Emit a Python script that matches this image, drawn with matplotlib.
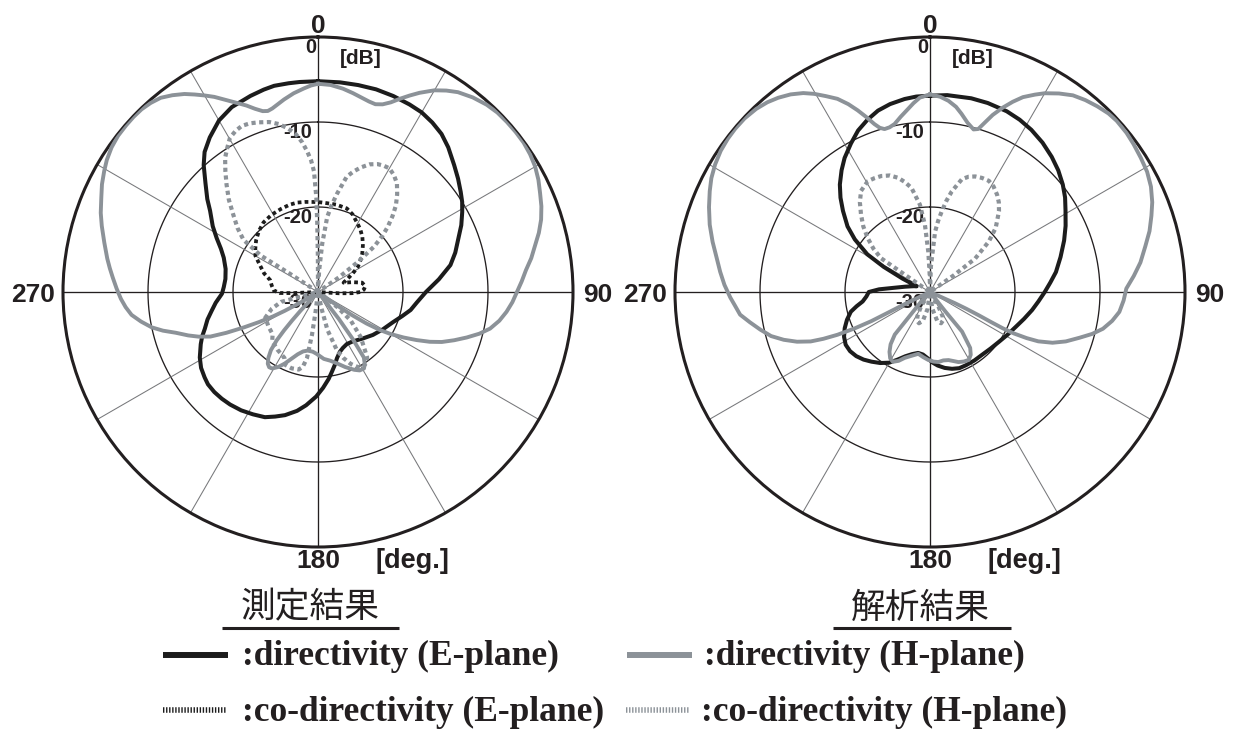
import numpy as np
import matplotlib.pyplot as plt
from matplotlib.lines import Line2D

# ---- radiation patterns: angle [deg, clockwise from 0], level [dB] ----
# measured (測定結果)
meas_e_deg = [0, 6, 11, 16, 21, 26, 30, 34, 38, 42, 47, 51, 55, 58, 61, 65, 69, 74, 78.5, 84,
              90, 96, 101, 106, 112, 120, 128, 136, 145, 151, 156, 160, 164, 167, 170, 173, 177, 181,
              186, 190, 195, 199, 203, 208, 213, 218, 222, 226, 230, 233, 237, 241, 246, 249, 252, 256,
              260, 264, 269, 273, 278, 284, 290, 294, 298, 302, 307, 310, 314, 318, 321, 325, 330, 335,
              341, 345, 348, 352, 355, 360]
meas_e_db = [-5.2, -5.2, -5.2, -5.2, -5.3, -5.45, -5.6, -5.95, -6.4, -7.1, -8.1, -8.8, -9.5, -10.0,
             -10.6, -11.4, -12.3, -13.2, -14.1, -15.7, -17.3, -18.3, -18.9, -19.7, -20.5, -21.2, -21.8,
             -22.4, -22.9, -23.0, -22.8, -22.5, -21.9, -21.2, -20.5, -19.7, -18.7, -17.7, -16.6, -15.8,
             -15.0, -14.5, -14.0, -13.7, -13.4, -13.2, -13.1, -13.05, -13.1, -13.3, -13.6, -14.1, -14.9,
             -15.4, -16.0, -16.6, -17.3, -17.9, -18.7, -18.9, -19.0, -18.8, -18.2, -17.5, -16.5, -15.4,
             -14.1, -13.0, -11.6, -9.9, -8.8, -7.8, -6.7, -6.0, -5.6, -5.35, -5.2, -5.2, -5.2, -5.2]

meas_h_deg = [0, 3.5, 7, 10, 12.5, 15, 17, 19, 21, 23, 25, 27, 30, 32.5, 35, 38.5, 42, 45, 48, 51,
              54, 57, 60, 63, 66, 69, 72, 75, 78, 81, 84, 87, 90, 93, 96, 99, 102, 104.5, 107, 109.5,
              112, 114, 116, 118, 120, 121.5, 123, 124.2, 125.3, 126.5, 141, 142.3, 143.5, 145, 147, 149,
              152, 155, 160, 165, 170, 175, 181, 185, 190, 194, 198, 201.5, 205, 208, 211, 213, 215, 217,
              219, 220.5, 221.5, 222.3, 223, 224.5, 237, 239, 240.5, 241.5, 243, 244.5, 246, 247.5,
              249.5, 251.5, 254, 256, 258, 260.5, 263, 265.5, 268, 271, 274, 276.5, 279, 283, 287, 290,
              293.5, 296.5, 299.5, 302, 305, 308, 311, 313.5, 316, 318.5, 321, 323.5, 326, 328, 330, 332,
              334, 336.5, 339, 341, 343, 344.5, 346, 348, 350, 353, 356, 358, 360]
meas_h_db = [-5.5, -5.6, -5.9, -6.25, -6.55, -6.8, -6.9, -6.65, -6.1, -5.3, -4.5, -3.7, -2.6, -1.9,
             -1.3, -0.75, -0.35, -0.15, -0.1, -0.08, -0.1, -0.25, -0.5, -0.9, -1.4, -1.85, -2.4, -3.1,
             -3.9, -4.6, -5.4, -6.0, -6.6, -7.1, -7.7, -8.4, -9.3, -10.4, -11.7, -13.0, -14.3, -15.6,
             -17.1, -18.6, -20.1, -21.4, -23.2, -25.2, -27.3, -30, -30, -26.0, -23.2, -20.6, -19.9,
             -19.5, -19.55, -19.9, -20.6, -21.3, -21.8, -22.1, -22.7, -22.95, -23.0, -22.8, -22.3, -21.6,
             -20.7, -20.0, -19.5, -19.45, -19.7, -20.3, -21.2, -22.5, -24.0, -25.5, -27.0, -30, -30,
             -27.5, -25.5, -24.0, -22.2, -20.3, -18.2, -16.3, -15.0, -13.9, -12.6, -11.2, -10.0, -8.9,
             -7.9, -7.3, -6.8, -6.3, -5.8, -5.35, -4.9, -4.2, -3.4, -2.8, -2.2, -1.6, -1.1, -0.7, -0.35,
             -0.15, -0.1, -0.08, -0.12, -0.3, -0.6, -1.2, -1.9, -2.6, -3.3, -4.0, -4.8, -5.7, -6.5, -7.2,
             -7.75, -7.9, -7.75, -7.4, -7.0, -6.45, -6.0, -5.7, -5.5]

meas_eco_deg = [266, 267.5, 268.5, 272, 278, 284, 289, 294, 300, 305, 310, 316, 322, 329, 336, 342,
                347, 352, 357.5, 2, 6, 12, 19, 24, 29, 34, 39, 44, 49, 53.5, 58, 62, 66, 70, 74, 78, 83,
                87, 90, 92, 93.5, 95]
meas_eco_db = [-30, -27, -25.5, -24.8, -24.5, -24.2, -23.3, -22.6, -21.5, -21.0, -20.5, -20.0, -19.6,
               -19.4, -19.3, -19.2, -19.2, -19.3, -19.4, -19.45, -19.5, -19.5, -19.6, -20.0, -20.6,
               -21.1, -21.7, -22.4, -23.1, -23.8, -24.5, -25.4, -26.2, -26.8, -25.8, -24.7, -24.4, -24.6,
               -25.0, -26.0, -27.5, -30]

meas_hco_deg = [0, 3, 5, 7, 9, 11, 14, 16.5, 19, 22, 25, 27.5, 30, 33, 36, 39, 42, 44.5, 47, 49, 51,
                53, 55, 57, 126, 128, 131, 136.5, 143, 146, 149, 152, 155.5, 159, 162, 166, 168, 170, 185,
                187, 188, 189.5, 191.5, 194, 199, 204, 207, 215, 223, 227, 235, 244, 250, 255, 258, 305,
                303, 302.5, 305, 308.5, 312.4, 316, 319.6, 322.5, 325.3, 328, 330.3, 333, 335.4, 338,
                340.7, 344, 346.8, 349.5, 351.9, 354, 355.6, 357, 358.1, 359, 359.4, 359.8, 0]
meas_hco_db = [-30, -27.5, -24.3, -21.1, -19.6, -18.2, -16.0, -15.2, -14.5, -13.8, -13.4, -13.25, -13.2,
               -13.6, -14.2, -15.2, -16.3, -17.5, -18.8, -20.0, -21.5, -24.1, -27.0, -30, -30, -27.1,
               -24.9, -22.7, -20.4, -19.9, -19.7, -20.0, -20.7, -21.7, -22.8, -25.4, -28, -30, -30, -27.7,
               -24.9, -22.1, -21.0, -20.6, -20.5, -20.6, -21.3, -21.7, -22.1, -22.7, -22.9, -23.1, -24.2,
               -25.5, -30, -30, -26, -22, -19.3, -17.9, -16.5, -14.9, -13.4, -12.1, -10.8, -9.9, -9.1,
               -8.7, -8.5, -8.6, -8.85, -9.2, -9.7, -10.4, -11.2, -12.3, -13.4, -14.5, -15.8, -18.9, -22.1,
               -26.0, -30]

# simulated (解析結果)
sim_e_deg = [0, 5, 12, 17, 23, 27.5, 32, 37, 42, 46.5, 51, 55, 59, 64, 69, 75, 81, 85.5, 90, 95,
             100, 106, 112, 119, 126, 133, 140, 147, 154, 159, 164, 169, 174, 178, 182, 186.5, 191, 196,
             201, 205.5, 210, 215, 220, 224.5, 229, 233.5, 238, 242.5, 247, 251.5, 256, 259, 262, 266,
             270, 273, 276, 279, 282, 286, 290, 293, 295, 296, 298.5, 301, 305, 308.5, 313, 316.5, 320,
             324, 327.5, 332, 336, 340, 344, 348, 352.5, 356, 360]
sim_e_db = [-6.9, -6.75, -6.7, -6.75, -6.9, -7.15, -7.5, -8.0, -8.6, -9.2, -9.9, -10.6, -11.4, -12.25,
            -13.1, -14.1, -15.0, -15.8, -16.5, -17.2, -17.8, -18.5, -19.1, -19.6, -20.0, -20.25, -20.4,
            -20.4, -20.4, -20.4, -20.6, -20.9, -21.3, -21.7, -22.2, -22.6, -22.7, -22.4, -21.9, -21.2,
            -20.4, -19.8, -19.3, -18.85, -18.5, -18.3, -18.3, -18.6, -19.1, -19.7, -20.4, -21.2, -22.0,
            -22.5, -22.8, -24.0, -25.5, -26.4, -27.0, -27.6, -28.0, -28.3, -27.5, -26.4, -23.8, -21.4,
            -19.2, -17.6, -16.0, -14.7, -13.5, -12.3, -11.3, -10.2, -9.2, -8.45, -7.8, -7.4, -7.1, -6.95,
            -6.9]

sim_h_deg = [0, 3, 5.5, 8, 10, 12.5, 15, 16.5, 18, 19.5, 21.5, 23.5, 25.5, 28, 30, 33, 36, 39, 42, 45,
             47.5, 51, 54, 57.5, 61, 64.5, 68, 71, 74.5, 78, 82, 85.5, 89, 92.5, 96, 99, 102, 104.5, 107,
             110, 112.5, 114.5, 115.5, 116.3, 116.5, 116.2, 115.5, 114.8, 114.2, 114, 141, 141.7, 141,
             144.3, 147, 150.3, 154, 157.9, 161, 164.8, 169, 173.2, 177, 181.4, 186, 190.7, 196, 201,
             204.5, 208, 211, 214.1, 217, 219.6, 220.2, 222.8, 223, 246, 244.5, 243.8, 243.6, 244.2,
             245.2, 246.3, 247.5, 249.5, 251.9, 254.5, 257.5, 260.5, 263.2, 266, 268.4, 272, 275.5, 279,
             283, 287, 291, 294.6, 297.5, 300.7, 304, 307.2, 310, 313.1, 316.5, 319.4, 322, 324.8, 327.5,
             329.7, 332, 334.4, 336.5, 338.3, 340, 341.7, 343, 344.4, 346.2, 348.1, 350.5, 353.2, 355,
             357, 360]
sim_h_db = [-6.75, -7.0, -7.4, -8.0, -8.7, -9.6, -10.2, -10.0, -9.0, -7.9, -6.7, -5.6, -4.6, -3.7,
            -3.0, -2.15, -1.4, -0.95, -0.6, -0.3, -0.2, -0.25, -0.4, -0.6, -0.8, -1.2, -1.8, -2.45,
            -3.2, -4.1, -5.0, -5.95, -6.9, -7.2, -7.6, -8.3, -9.2, -10.3, -11.6, -13.0, -14.4, -16.0,
            -17.4, -19.0, -20.4, -22.0, -23.7, -25.3, -26.8, -30, -30, -27.1, -24.0, -21.9, -21.2,
            -20.8, -20.9, -21.1, -21.4, -21.7, -21.8, -21.7, -21.8, -22.0, -22.3, -22.6, -22.2, -21.7,
            -21.1, -20.7, -20.9, -21.5, -22.3, -23.5, -26.0, -28.5, -30, -30, -27.0, -24.5, -22.3,
            -20.2, -18.0, -16.3, -14.8, -13.3, -11.9, -10.6, -9.55, -8.5, -7.5, -7.0, -6.5, -5.8, -5.2,
            -4.6, -3.75, -2.9, -2.15, -1.5, -1.0, -0.6, -0.3, -0.15, -0.1, -0.12, -0.3, -0.6, -1.0,
            -1.55, -2.25, -3.0, -3.9, -4.8, -5.9, -7.0, -8.1, -9.2, -9.8, -10.1, -10.05, -9.8, -9.1,
            -8.3, -7.7, -7.1, -6.75]

sim_hco_deg = [0, 2, 4.8, 6.5, 8.3, 10.2, 12.2, 15.8, 18.5, 21.4, 24.5, 27.9, 31, 34.6, 37.5, 40.5,
               45.7, 49.4, 53.5, 55, 56, 145, 150, 152.5, 156, 160.5, 166, 172, 176, 184, 188, 194, 199.5,
               204, 207.5, 212, 215, 304, 304.5, 304.6, 307.5, 310.9, 314.5, 318.3, 322, 325.7, 330.7,
               334, 337.2, 341, 344.4, 347, 349.9, 353.4, 355.7, 357.6, 359, 0]
sim_hco_db = [-30, -27, -22.9, -21.6, -20.4, -19.1, -17.9, -16.2, -15.7, -15.4, -15.25, -15.2, -15.5,
              -16.1, -16.7, -17.5, -19.2, -20.9, -23.4, -26.6, -30, -30, -28, -26.8, -26.3, -26.1, -26.5,
              -28, -30, -30, -28, -26.5, -26.1, -26.3, -26.8, -28, -30, -30, -26.6, -23.0, -21.6, -20.3,
              -19.0, -17.8, -16.6, -15.6, -15.05, -15.1, -15.2, -15.5, -16.05, -16.7, -17.55, -19.65,
              -22.1, -25.3, -28, -30]

ring_levels = [-10, -20]
level_labels = ['0', '-10', '-20', '-30']
spoke_deg = list(range(0, 360, 30))

INK = '#231f20'
BLACK = '#1c1c1c'
GRAY = '#8c9298'
SPOKE = '#77787b'
W, H = 1237, 735
R_PX = 255  # outer ring radius in pixels


def fx(px):
    return px / W


def fy(py):
    return 1 - py / H


fig = plt.figure(figsize=(W / 100, H / 100), dpi=100)
fig.patch.set_facecolor('white')

sans = dict(family='Liberation Sans', weight='bold', color=INK)


def setup_panel(left_px):
    ax = fig.add_axes([fx(left_px), fy(547), 2 * R_PX / W, 2 * R_PX / H], projection='polar')
    ax.set_theta_zero_location('N')
    ax.set_theta_direction(-1)
    ax.set_ylim(-30, 0)
    ax.set_xticks([])
    ax.set_yticks([])
    ax.grid(False)
    ax.spines['polar'].set_linewidth(2.2)
    ax.spines['polar'].set_color(INK)

    t = np.linspace(0, 2 * np.pi, 721)
    for lvl in ring_levels:
        ax.plot(t, np.full_like(t, lvl), color=INK, lw=0.95, zorder=1)
    for a in spoke_deg:
        major = a % 90 == 0
        ax.plot([np.deg2rad(a)] * 2, [-30, 0], color=INK if major else SPOKE,
                lw=0.95 if major else 0.75, zorder=1.2 if major else 1.1)

    # angle labels
    ax.text(0.5, 1.008, '0', transform=ax.transAxes, ha='center', va='baseline', fontsize=19, **sans)
    ax.text(1.02, 0.481, '90', transform=ax.transAxes, ha='left', va='baseline', fontsize=19, **sans)
    ax.text(-0.016, 0.481, '270', transform=ax.transAxes, ha='right', va='baseline', fontsize=19, **sans)
    ax.text(0.5, -0.041, '180', transform=ax.transAxes, ha='center', va='baseline', fontsize=19, **sans)
    ax.text(0.612, -0.041, '[deg.]', transform=ax.transAxes, ha='left', va='baseline', fontsize=19.5, **sans)
    ax.text(0.542, 0.948, '[dB]', transform=ax.transAxes, ha='left', va='baseline', fontsize=15, **sans)

    # level labels along the 0-degree axis
    for lab in level_labels:
        r_px = (float(lab) + 30) / 30 * R_PX
        xr = 0.4965 if lab == '0' else 0.4885
        ax.text(xr, 0.5 + (r_px - 16) / (2 * R_PX), lab, transform=ax.transAxes,
                ha='right', va='baseline', fontsize=14.5, zorder=2, **sans)
    return ax


def draw_solid(ax, deg, db, color, lw):
    ax.plot(np.deg2rad(deg), db, color=color, lw=lw, solid_joinstyle='round', zorder=3)


def draw_dotted(ax, deg, db, color, lw):
    ax.plot(np.deg2rad(deg), db, color=color, lw=lw, linestyle=(0, (1.0, 0.85)),
            dash_capstyle='butt', zorder=4)


ax_m = setup_panel(63)
draw_solid(ax_m, meas_e_deg, meas_e_db, BLACK, 2.9)
draw_solid(ax_m, meas_h_deg, meas_h_db, GRAY, 2.8)
draw_dotted(ax_m, meas_eco_deg, meas_eco_db, BLACK, 2.7)
draw_dotted(ax_m, meas_hco_deg, meas_hco_db, GRAY, 3.0)

ax_s = setup_panel(675)
draw_solid(ax_s, sim_e_deg, sim_e_db, BLACK, 2.9)
draw_solid(ax_s, sim_h_deg, sim_h_db, GRAY, 2.8)
draw_dotted(ax_s, sim_hco_deg, sim_hco_db, GRAY, 3.0)

# panel titles with underline
cjk = dict(family=['Noto Sans CJK JP', 'DejaVu Sans'], fontsize=25, color=INK)
fig.text(fx(310), fy(608), '測定結果', ha='center', va='center', **cjk)
fig.text(fx(920), fy(608), '解析結果', ha='center', va='center', **cjk)
for x0, x1 in [(222, 399), (833, 1011)]:
    fig.add_artist(Line2D([fx(x0), fx(x1)], [fy(628)] * 2, transform=fig.transFigure,
                          color=INK, lw=2.2, solid_capstyle='butt'))

# legend
serif = dict(family='Liberation Serif', weight='bold', fontsize=25.5, color=INK)
entries = [
    (163, 228, 655, BLACK, False, ':directivity (E-plane)', 242, 665),
    (627, 692, 655, GRAY, False, ':directivity (H-plane)', 704, 665),
    (163, 226, 710, BLACK, True, ':co-directivity (E-plane)', 242, 721),
    (626, 690, 710, GRAY, True, ':co-directivity (H-plane)', 701, 721),
]
for x0, x1, y, col, dotted, label, tx, ty in entries:
    fig.add_artist(Line2D([fx(x0), fx(x1)], [fy(y)] * 2, transform=fig.transFigure, color=col,
                          lw=4.0 if dotted else 4.3,
                          linestyle=(0, (0.25, 0.3)) if dotted else '-',
                          solid_capstyle='butt', dash_capstyle='butt'))
    fig.text(fx(tx), fy(ty), label, ha='left', va='baseline', **serif)

fig.savefig('out.png', dpi=100, facecolor='white')
